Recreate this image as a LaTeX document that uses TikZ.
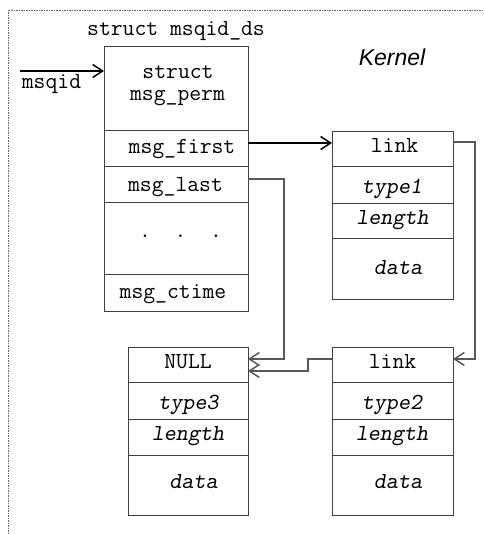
\documentclass[tikz,border=0pt]{standalone}
\usepackage{fontspec}
\newfontfamily\kernfont{Liberation Sans}
\usetikzlibrary{arrows.meta}
\tikzset{
  rowbox/.style={draw=black!75, line width=0.9pt, minimum width=#1, inner sep=0pt, outer sep=0pt, rectangle},
  lbl/.style={anchor=base, inner sep=0pt, font=\fontsize{23}{26}\ttfamily},
  ilbl/.style={anchor=base, inner sep=0pt, font=\fontsize{23}{26}\ttfamily\slshape},
  tip/.style={-{Straight Barb[length=10pt,width=13pt,line width=1.5pt]}},
  conn/.style={draw=black!65, line width=1.3pt, tip},
  mainconn/.style={draw=black, line width=1.1pt, tip},
  frame/.style={draw=black!60, line width=0.9pt, dash pattern=on 1.5pt off 1pt}
}
\begin{document}
\begin{tikzpicture}[x=1pt,y=-1pt]
\useasboundingbox (0,0) rectangle (483,534);
% frame
\draw[frame] (483,10) -- (8,10) -- (8,534);
% main struct
\node[rowbox=144pt, minimum height=84pt, anchor=north west] (perm) at (104,46) {};
\node[rowbox=144pt, minimum height=36pt, anchor=north west] (first) at (104,130) {};
\node[rowbox=144pt, minimum height=36pt, anchor=north west] (last) at (104,166) {};
\node[rowbox=144pt, minimum height=72pt, anchor=north west] (dots) at (104,202) {};
\node[rowbox=144pt, minimum height=37pt, anchor=north west] (ctime) at (104,274) {};
\node[lbl] (tperm1) at (178,79) {struct};
\node[lbl] (tperm2) at (177.5,101) {msg\_perm};
\node[lbl] (tfirst) at (182,154) {msg\_first};
\node[lbl] (tlast) at (175.5,192) {msg\_last};
\node[lbl] (tdots) at (180.5,237) {.\ \ .\ \ .};
\node[lbl] (tctime) at (173,298) {msg\_ctime};
\node[lbl] (tstruct) at (176,36) {struct msqid\_ds};
\node[anchor=base, inner sep=0pt, font=\kernfont\itshape\fontsize{23}{26}\selectfont] (kernel) at (392,66) {Kernel};
% msqid
\coordinate (msqidstart) at (20,71);
\draw[mainconn] (msqidstart) -- (msqidstart -| perm.west);
\node[lbl] (tmsqid) at (51.5,89) {msqid};
% link1 box
\node[rowbox=121pt, minimum height=35pt, anchor=north west] (l1link) at (332,131) {};
\node[rowbox=121pt, minimum height=37pt, anchor=north west] (l1type) at (332,166) {};
\node[rowbox=121pt, minimum height=35pt, anchor=north west] (l1len) at (332,203) {};
\node[rowbox=121pt, minimum height=61pt, anchor=north west] (l1data) at (332,238) {};
\node[lbl] at (394.5,153) {link};
\node[ilbl] at (392,194) {type1};
\node[ilbl] at (392.5,225) {length};
\node[ilbl] at (398,274) {data};
% link2 box
\node[rowbox=121pt, minimum height=35pt, anchor=north west] (l2link) at (332,347) {};
\node[rowbox=121pt, minimum height=37pt, anchor=north west] (l2type) at (332,382) {};
\node[rowbox=121pt, minimum height=36pt, anchor=north west] (l2len) at (332,419) {};
\node[rowbox=121pt, minimum height=60pt, anchor=north west] (l2data) at (332,455) {};
\node[lbl] at (392.5,368) {link};
\node[ilbl] at (392,409) {type2};
\node[ilbl] at (392,440) {length};
\node[ilbl] at (398,488) {data};
% NULL box
\node[rowbox=120pt, minimum height=35pt, anchor=north west] (nlink) at (128,347) {};
\node[rowbox=120pt, minimum height=37pt, anchor=north west] (ntype) at (128,382) {};
\node[rowbox=120pt, minimum height=36pt, anchor=north west] (nlen) at (128,419) {};
\node[rowbox=120pt, minimum height=60pt, anchor=north west] (ndata) at (128,455) {};
\node[lbl] at (188,368) {NULL};
\node[ilbl] at (188.5,409) {type3};
\node[ilbl] at (188,440) {length};
\node[ilbl] at (193.5,488) {data};
% connectors
\coordinate (fa) at (248,143);
\draw[mainconn] (fa) -- (fa -| l1link.west);
\coordinate (r1) at (453,142);
\coordinate (r2) at (475,142);
\coordinate (r3) at (475,359);
\draw[conn] (r1) -- (r2) -- (r3) -- (r3 -| l2link.east);
\coordinate (m1) at (248,179);
\coordinate (m2) at (284,179);
\coordinate (m3) at (284,359);
\draw[conn] (m1) -- (m2) -- (m3) -- (m3 -| nlink.east);
\coordinate (k1) at (332,359);
\coordinate (k2) at (308,359);
\coordinate (k3) at (308,371);
\draw[conn] (k1) -- (k2) -- (k3) -- (k3 -| nlink.east);
\end{tikzpicture}
\end{document}
